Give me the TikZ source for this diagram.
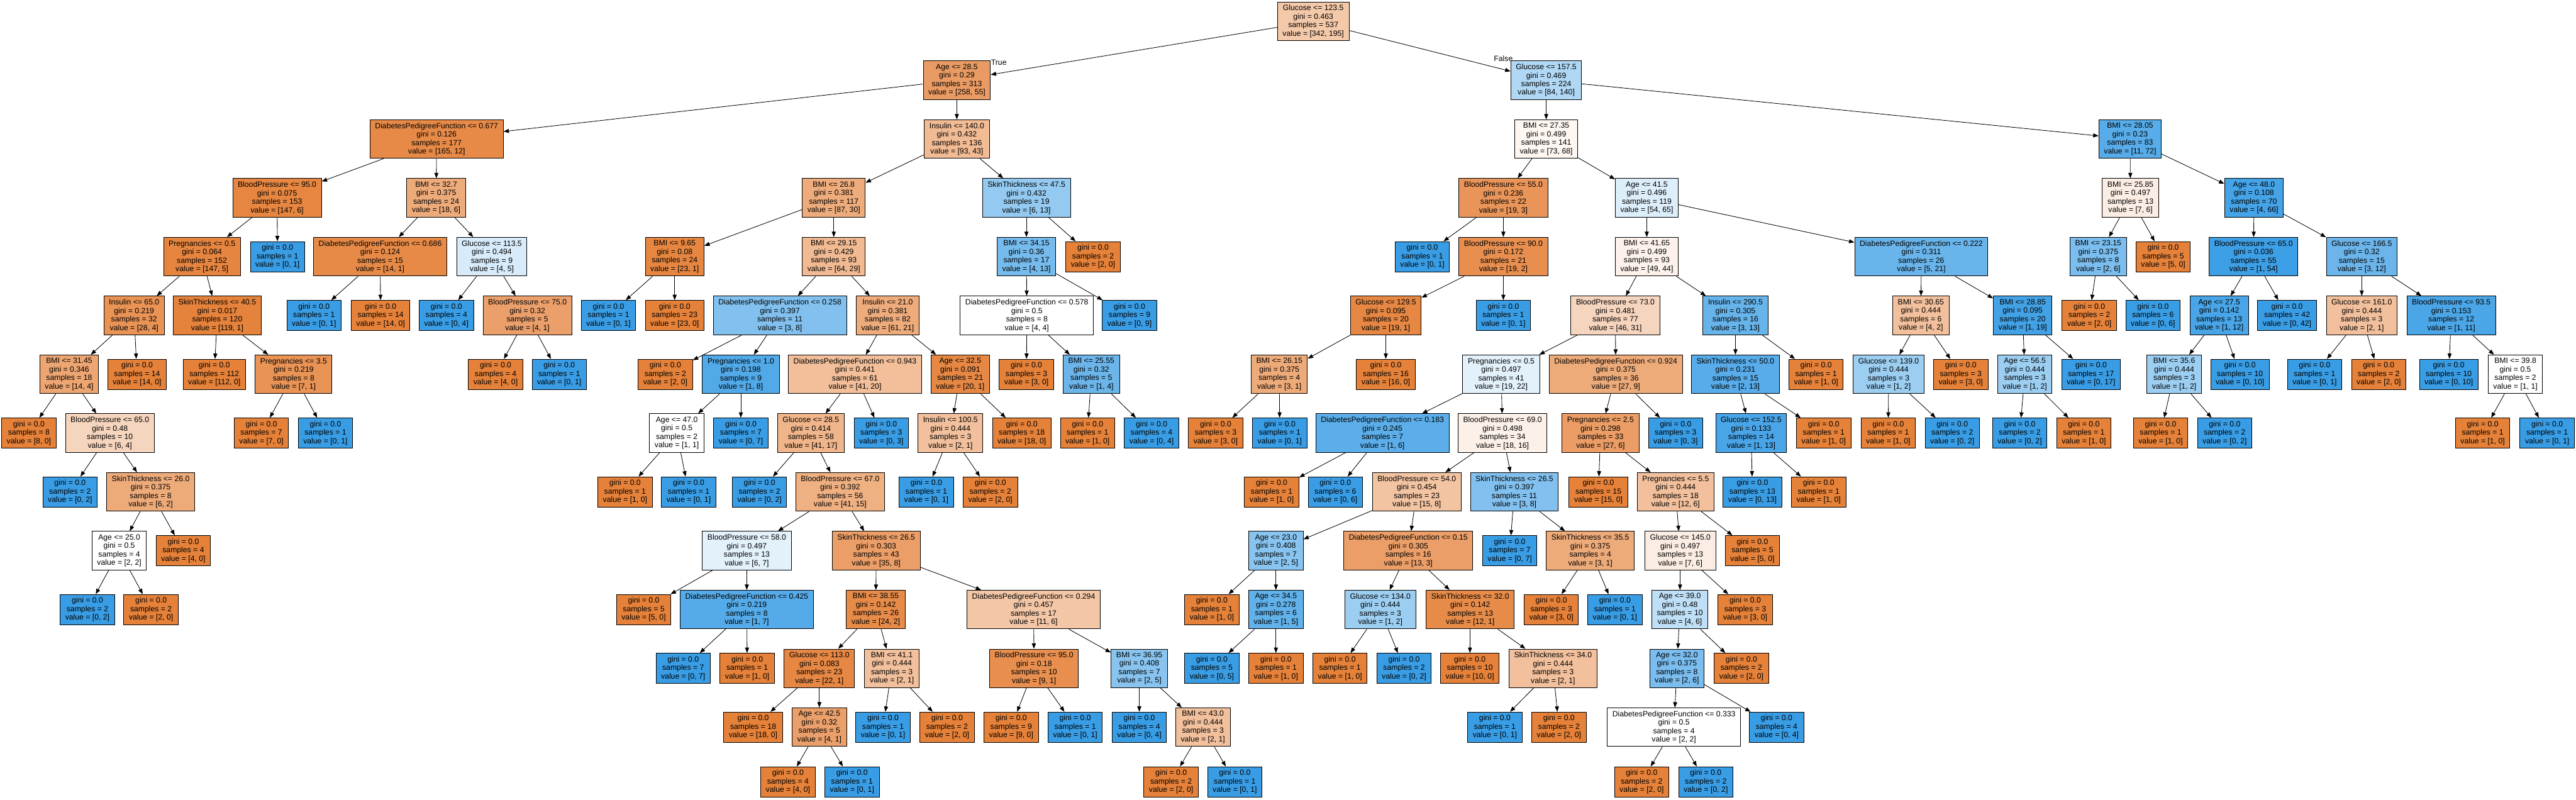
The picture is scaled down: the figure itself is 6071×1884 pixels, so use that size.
\documentclass[tikz,border=0pt]{standalone}
\usepackage{fontspec}
\setmainfont{Liberation Sans}
\usetikzlibrary{arrows.meta}
\definecolor{dtorange}{RGB}{229,129,57}
\definecolor{dtblue}{RGB}{57,157,229}
\tikzset{
  dtv/.code 2 args={%
    \pgfmathtruncatemacro\dtP{round(abs(#1-#2)/max(#1,#2)*100)}%
    \ifnum#1<#2\relax\def\dtC{dtblue}\else\def\dtC{dtorange}\fi
    \edef\dttmp{\noexpand\pgfkeysalso{fill=\dtC!\dtP!white}}\dttmp},
  box/.style={draw=black, line width=0.4pt, rectangle, align=center,
    inner xsep=0.12cm, inner ysep=0pt, minimum width=1.27cm,
    font=\fontsize{5.15pt}{5.69pt}\selectfont},
  splitbox/.style={box, minimum height=0.91cm},
  leafbox/.style={box, minimum height=0.71cm},
  edge/.style={line width=0.35pt, -{Triangle[length=3.6pt,width=2.7pt]}},
  lbl/.style={inner sep=0pt, font=\fontsize{5.15pt}{5.69pt}\selectfont}
}
% #1 name, #2 parent, #3 x, #4 y, #5 condition, #6 gini, #7 class0, #8 class1
\newcommand\dtsplit[8]{\node[splitbox, dtv={#7}{#8}] (#1) at (#3,#4)
  {#5\\gini = #6\\samples = \the\numexpr#7+#8\relax\\value = [#7, #8]};
  \draw[edge] (#2) -- (#1);}
% #1 name, #2 parent, #3 x, #4 y, #5 class0, #6 class1
\newcommand\dtleaf[6]{\node[leafbox, dtv={#5}{#6}] (#1) at (#3,#4)
  {gini = 0.0\\samples = \the\numexpr#5+#6\relax\\value = [#5, #6]};
  \draw[edge] (#2) -- (#1);}
\begin{document}
\begin{tikzpicture}[x=0.01cm,y=-0.01cm]
\useasboundingbox (0,0) rectangle (6071,1884);
\node[splitbox, dtv={342}{195}] (t) at (3095,50.5) {Glucose <= 123.5\\gini = 0.463\\samples = 537\\value = [342, 195]};
% level 1
\dtsplit{t0}{t}{2255}{189.1}{Age <= 28.5}{0.29}{258}{55}
\dtsplit{t1}{t}{3644}{189.1}{Glucose <= 157.5}{0.469}{84}{140}
\node[lbl] (ltrue) at (2354,147) {True};
\node[lbl] (lfalse) at (3543,138) {False};
% level 2
\dtsplit{t00}{t0}{1029}{327.7}{DiabetesPedigreeFunction <= 0.677}{0.126}{165}{12}
\dtsplit{t01}{t0}{2255}{327.7}{Insulin <= 140.0}{0.432}{93}{43}
\dtsplit{t10}{t1}{3644}{327.7}{BMI <= 27.35}{0.499}{73}{68}
\dtsplit{t11}{t1}{5020}{327.7}{BMI <= 28.05}{0.23}{11}{72}
% level 3
\dtsplit{t000}{t00}{653}{466.3}{BloodPressure <= 95.0}{0.075}{147}{6}
\dtsplit{t001}{t00}{1028}{466.3}{BMI <= 32.7}{0.375}{18}{6}
\dtsplit{t010}{t01}{1965}{466.3}{BMI <= 26.8}{0.381}{87}{30}
\dtsplit{t011}{t01}{2419}{466.3}{SkinThickness <= 47.5}{0.432}{6}{13}
\dtsplit{t100}{t10}{3543}{466.3}{BloodPressure <= 55.0}{0.236}{19}{3}
\dtsplit{t101}{t10}{3881}{466.3}{Age <= 41.5}{0.496}{54}{65}
\dtsplit{t110}{t11}{5021}{466.3}{BMI <= 25.85}{0.497}{7}{6}
\dtsplit{t111}{t11}{5312}{466.3}{Age <= 48.0}{0.108}{4}{66}
% level 4
\dtsplit{t0000}{t000}{476}{604.9}{Pregnancies <= 0.5}{0.064}{147}{5}
\dtleaf{t0001}{t000}{654}{604.9}{0}{1}
\dtsplit{t0010}{t001}{896}{604.9}{DiabetesPedigreeFunction <= 0.686}{0.124}{14}{1}
\dtsplit{t0011}{t001}{1159}{604.9}{Glucose <= 113.5}{0.494}{4}{5}
\dtsplit{t0100}{t010}{1590}{604.9}{BMI <= 9.65}{0.08}{23}{1}
\dtsplit{t0101}{t010}{1965}{604.9}{BMI <= 29.15}{0.429}{64}{29}
\dtsplit{t0110}{t011}{2419}{604.9}{BMI <= 34.15}{0.36}{4}{13}
\dtleaf{t0111}{t011}{2576}{604.9}{2}{0}
\dtleaf{t1000}{t100}{3352}{604.9}{0}{1}
\dtsplit{t1001}{t100}{3543}{604.9}{BloodPressure <= 90.0}{0.172}{19}{2}
\dtsplit{t1010}{t101}{3881}{604.9}{BMI <= 41.65}{0.499}{49}{44}
\dtsplit{t1011}{t101}{4528}{604.9}{DiabetesPedigreeFunction <= 0.222}{0.311}{5}{21}
\dtsplit{t1100}{t110}{4945}{604.9}{BMI <= 23.15}{0.375}{2}{6}
\dtleaf{t1101}{t110}{5098}{604.9}{5}{0}
\dtsplit{t1110}{t111}{5311}{604.9}{BloodPressure <= 65.0}{0.036}{1}{54}
\dtsplit{t1111}{t111}{5566}{604.9}{Glucose <= 166.5}{0.32}{3}{12}
% level 5
\dtsplit{t00000}{t0000}{316}{743.5}{Insulin <= 65.0}{0.219}{28}{4}
\dtsplit{t00001}{t0000}{512}{743.5}{SkinThickness <= 40.5}{0.017}{119}{1}
\dtleaf{t00100}{t0010}{740}{743.5}{0}{1}
\dtleaf{t00101}{t0010}{897}{743.5}{14}{0}
\dtleaf{t00110}{t0011}{1052}{743.5}{0}{4}
\dtsplit{t00111}{t0011}{1243}{743.5}{BloodPressure <= 75.0}{0.32}{4}{1}
\dtleaf{t01000}{t0100}{1434}{743.5}{0}{1}
\dtleaf{t01001}{t0100}{1590}{743.5}{23}{0}
\dtsplit{t01010}{t0101}{1838}{743.5}{DiabetesPedigreeFunction <= 0.258}{0.397}{3}{8}
\dtsplit{t01011}{t0101}{2092}{743.5}{Insulin <= 21.0}{0.381}{61}{21}
\dtsplit{t01100}{t0110}{2420}{743.5}{DiabetesPedigreeFunction <= 0.578}{0.5}{4}{4}
\dtleaf{t01101}{t0110}{2662}{743.5}{0}{9}
\dtsplit{t10010}{t1001}{3266}{743.5}{Glucose <= 129.5}{0.095}{19}{1}
\dtleaf{t10011}{t1001}{3543}{743.5}{0}{1}
\dtsplit{t10100}{t1010}{3807}{743.5}{BloodPressure <= 73.0}{0.481}{46}{31}
\dtsplit{t10101}{t1010}{4090}{743.5}{Insulin <= 290.5}{0.305}{3}{13}
\dtsplit{t10110}{t1011}{4527}{743.5}{BMI <= 30.65}{0.444}{4}{2}
\dtsplit{t10111}{t1011}{4767}{743.5}{BMI <= 28.85}{0.095}{1}{19}
\dtleaf{t11000}{t1100}{4924}{743.5}{2}{0}
\dtleaf{t11001}{t1100}{5074}{743.5}{0}{6}
\dtsplit{t11100}{t1110}{5230}{743.5}{Age <= 27.5}{0.142}{1}{12}
\dtleaf{t11101}{t1110}{5390}{743.5}{0}{42}
\dtsplit{t11110}{t1111}{5566}{743.5}{Glucose <= 161.0}{0.444}{2}{1}
\dtsplit{t11111}{t1111}{5777}{743.5}{BloodPressure <= 93.5}{0.153}{1}{11}
% level 6
\dtsplit{t000000}{t00000}{163}{882.1}{BMI <= 31.45}{0.346}{14}{4}
\dtleaf{t000001}{t00000}{323}{882.1}{14}{0}
\dtleaf{t000010}{t00001}{505}{882.1}{112}{0}
\dtsplit{t000011}{t00001}{692}{882.1}{Pregnancies <= 3.5}{0.219}{7}{1}
\dtleaf{t001110}{t00111}{1168}{882.1}{4}{0}
\dtleaf{t001111}{t00111}{1318}{882.1}{0}{1}
\dtleaf{t010100}{t01010}{1568}{882.1}{2}{0}
\dtsplit{t010101}{t01010}{1746}{882.1}{Pregnancies <= 1.0}{0.198}{1}{8}
\dtsplit{t010110}{t01011}{2015}{882.1}{DiabetesPedigreeFunction <= 0.943}{0.441}{41}{20}
\dtsplit{t010111}{t01011}{2263}{882.1}{Age <= 32.5}{0.091}{20}{1}
\dtleaf{t011000}{t01100}{2419}{882.1}{3}{0}
\dtsplit{t011001}{t01100}{2572}{882.1}{BMI <= 25.55}{0.32}{1}{4}
\dtsplit{t100100}{t10010}{3015}{882.1}{BMI <= 26.15}{0.375}{3}{1}
\dtleaf{t100101}{t10010}{3266}{882.1}{16}{0}
\dtsplit{t101000}{t10100}{3538}{882.1}{Pregnancies <= 0.5}{0.497}{19}{22}
\dtsplit{t101001}{t10100}{3808}{882.1}{DiabetesPedigreeFunction <= 0.924}{0.375}{27}{9}
\dtsplit{t101010}{t10101}{4090}{882.1}{SkinThickness <= 50.0}{0.231}{2}{13}
\dtleaf{t101011}{t10101}{4280}{882.1}{1}{0}
\dtsplit{t101100}{t10110}{4451}{882.1}{Glucose <= 139.0}{0.444}{1}{2}
\dtleaf{t101101}{t10110}{4621}{882.1}{3}{0}
\dtsplit{t101110}{t10111}{4772}{882.1}{Age <= 56.5}{0.444}{1}{2}
\dtleaf{t101111}{t10111}{4928}{882.1}{0}{17}
\dtsplit{t111000}{t11100}{5124}{882.1}{BMI <= 35.6}{0.444}{1}{2}
\dtleaf{t111001}{t11100}{5279}{882.1}{0}{10}
\dtleaf{t111100}{t11110}{5455}{882.1}{0}{1}
\dtleaf{t111101}{t11110}{5606}{882.1}{2}{0}
\dtleaf{t111110}{t11111}{5771}{882.1}{0}{10}
\dtsplit{t111111}{t11111}{5928}{882.1}{BMI <= 39.8}{0.5}{1}{1}
% level 7
\dtleaf{t0000000}{t000000}{68}{1020.7}{8}{0}
\dtsplit{t0000001}{t000000}{259}{1020.7}{BloodPressure <= 65.0}{0.48}{6}{4}
\dtleaf{t0000110}{t000011}{616}{1020.7}{7}{0}
\dtleaf{t0000111}{t000011}{767}{1020.7}{0}{1}
\dtsplit{t0101010}{t010101}{1595}{1020.7}{Age <= 47.0}{0.5}{1}{1}
\dtleaf{t0101011}{t010101}{1746}{1020.7}{0}{7}
\dtsplit{t0101100}{t010110}{1911}{1020.7}{Glucose <= 28.5}{0.414}{41}{17}
\dtleaf{t0101101}{t010110}{2077}{1020.7}{0}{3}
\dtsplit{t0101110}{t010111}{2240}{1020.7}{Insulin <= 100.5}{0.444}{2}{1}
\dtleaf{t0101111}{t010111}{2408}{1020.7}{18}{0}
\dtleaf{t0110010}{t011001}{2563}{1020.7}{1}{0}
\dtleaf{t0110011}{t011001}{2714}{1020.7}{0}{4}
\dtleaf{t1001000}{t100100}{2865}{1020.7}{3}{0}
\dtleaf{t1001001}{t100100}{3016}{1020.7}{0}{1}
\dtsplit{t1010000}{t101000}{3258}{1020.7}{DiabetesPedigreeFunction <= 0.183}{0.245}{1}{6}
\dtsplit{t1010001}{t101000}{3541}{1020.7}{BloodPressure <= 69.0}{0.498}{18}{16}
\dtsplit{t1010010}{t101001}{3772}{1020.7}{Pregnancies <= 2.5}{0.298}{27}{6}
\dtleaf{t1010011}{t101001}{3949}{1020.7}{0}{3}
\dtsplit{t1010100}{t101010}{4127}{1020.7}{Glucose <= 152.5}{0.133}{1}{13}
\dtleaf{t1010101}{t101010}{4298}{1020.7}{1}{0}
\dtleaf{t1011000}{t101100}{4450}{1020.7}{1}{0}
\dtleaf{t1011001}{t101100}{4601}{1020.7}{0}{2}
\dtleaf{t1011100}{t101110}{4760}{1020.7}{0}{2}
\dtleaf{t1011101}{t101110}{4911}{1020.7}{1}{0}
\dtleaf{t1110000}{t111000}{5092}{1020.7}{1}{0}
\dtleaf{t1110001}{t111000}{5243}{1020.7}{0}{2}
\dtleaf{t1111110}{t111111}{5851}{1020.7}{1}{0}
\dtleaf{t1111111}{t111111}{6003}{1020.7}{0}{1}
% level 8
\dtleaf{t00000010}{t0000001}{165}{1159.3}{0}{2}
\dtsplit{t00000011}{t0000001}{355}{1159.3}{SkinThickness <= 26.0}{0.375}{6}{2}
\dtleaf{t01010100}{t0101010}{1473}{1159.3}{1}{0}
\dtleaf{t01010101}{t0101010}{1623}{1159.3}{0}{1}
\dtleaf{t01011000}{t0101100}{1790}{1159.3}{0}{2}
\dtsplit{t01011001}{t0101100}{1980}{1159.3}{BloodPressure <= 67.0}{0.392}{41}{15}
\dtleaf{t01011100}{t0101110}{2183}{1159.3}{0}{1}
\dtleaf{t01011101}{t0101110}{2334}{1159.3}{2}{0}
\dtleaf{t10100000}{t1010000}{2997}{1159.3}{1}{0}
\dtleaf{t10100001}{t1010000}{3147}{1159.3}{0}{6}
\dtsplit{t10100010}{t1010001}{3339}{1159.3}{BloodPressure <= 54.0}{0.454}{15}{8}
\dtsplit{t10100011}{t1010001}{3569}{1159.3}{SkinThickness <= 26.5}{0.397}{3}{8}
\dtleaf{t10100100}{t1010010}{3767}{1159.3}{15}{0}
\dtsplit{t10100101}{t1010010}{3949}{1159.3}{Pregnancies <= 5.5}{0.444}{12}{6}
\dtleaf{t10101000}{t1010100}{4130}{1159.3}{0}{13}
\dtleaf{t10101001}{t1010100}{4286}{1159.3}{1}{0}
% level 9
\dtsplit{t000000110}{t00000011}{281}{1297.9}{Age <= 25.0}{0.5}{2}{2}
\dtleaf{t000000111}{t00000011}{432}{1297.9}{4}{0}
\dtsplit{t010110010}{t01011001}{1760}{1297.9}{BloodPressure <= 58.0}{0.497}{6}{7}
\dtsplit{t010110011}{t01011001}{2065}{1297.9}{SkinThickness <= 26.5}{0.303}{35}{8}
\dtsplit{t101000100}{t10100010}{3007}{1297.9}{Age <= 23.0}{0.408}{2}{5}
\dtsplit{t101000101}{t10100010}{3319}{1297.9}{DiabetesPedigreeFunction <= 0.15}{0.305}{13}{3}
\dtleaf{t101000110}{t10100011}{3558}{1297.9}{0}{7}
\dtsplit{t101000111}{t10100011}{3748}{1297.9}{SkinThickness <= 35.5}{0.375}{3}{1}
\dtsplit{t101001010}{t10100101}{3960}{1297.9}{Glucose <= 145.0}{0.497}{7}{6}
\dtleaf{t101001011}{t10100101}{4130}{1297.9}{5}{0}
% level 10
\dtleaf{t0000001100}{t000000110}{206}{1436.5}{0}{2}
\dtleaf{t0000001101}{t000000110}{356}{1436.5}{2}{0}
\dtleaf{t0101100100}{t010110010}{1517}{1436.5}{5}{0}
\dtsplit{t0101100101}{t010110010}{1760}{1436.5}{DiabetesPedigreeFunction <= 0.425}{0.219}{1}{7}
\dtsplit{t0101100110}{t010110011}{2064}{1436.5}{BMI <= 38.55}{0.142}{24}{2}
\dtsplit{t0101100111}{t010110011}{2436}{1436.5}{DiabetesPedigreeFunction <= 0.294}{0.457}{11}{6}
\dtleaf{t1010001000}{t101000100}{2856}{1436.5}{1}{0}
\dtsplit{t1010001001}{t101000100}{3007}{1436.5}{Age <= 34.5}{0.278}{1}{5}
\dtsplit{t1010001010}{t101000101}{3253}{1436.5}{Glucose <= 134.0}{0.444}{1}{2}
\dtsplit{t1010001011}{t101000101}{3465}{1436.5}{SkinThickness <= 32.0}{0.142}{12}{1}
\dtleaf{t1010001110}{t101000111}{3656}{1436.5}{3}{0}
\dtleaf{t1010001111}{t101000111}{3806}{1436.5}{0}{1}
\dtsplit{t1010010100}{t101001010}{3959}{1436.5}{Age <= 39.0}{0.48}{4}{6}
\dtleaf{t1010010101}{t101001010}{4113}{1436.5}{3}{0}
% level 11
\dtleaf{t01011001010}{t0101100101}{1610}{1575.1}{0}{7}
\dtleaf{t01011001011}{t0101100101}{1761}{1575.1}{1}{0}
\dtsplit{t01011001100}{t0101100110}{1931}{1575.1}{Glucose <= 113.0}{0.083}{22}{1}
\dtsplit{t01011001101}{t0101100110}{2102}{1575.1}{BMI <= 41.1}{0.444}{2}{1}
\dtsplit{t01011001110}{t0101100111}{2437}{1575.1}{BloodPressure <= 95.0}{0.18}{9}{1}
\dtsplit{t01011001111}{t0101100111}{2685}{1575.1}{BMI <= 36.95}{0.408}{2}{5}
\dtleaf{t10100010010}{t1010001001}{2856}{1575.1}{0}{5}
\dtleaf{t10100010011}{t1010001001}{3007}{1575.1}{1}{0}
\dtleaf{t10100010100}{t1010001010}{3158}{1575.1}{1}{0}
\dtleaf{t10100010101}{t1010001010}{3309}{1575.1}{0}{2}
\dtleaf{t10100010110}{t1010001011}{3464}{1575.1}{10}{0}
\dtsplit{t10100010111}{t1010001011}{3660}{1575.1}{SkinThickness <= 34.0}{0.444}{2}{1}
\dtsplit{t10100101000}{t1010010100}{3952}{1575.1}{Age <= 32.0}{0.375}{2}{6}
\dtleaf{t10100101001}{t1010010100}{4104}{1575.1}{2}{0}
% level 12
\dtleaf{t010110011000}{t01011001100}{1775}{1713.7}{18}{0}
\dtsplit{t010110011001}{t01011001100}{1931}{1713.7}{Age <= 42.5}{0.32}{4}{1}
\dtleaf{t010110011010}{t01011001101}{2081}{1713.7}{0}{1}
\dtleaf{t010110011011}{t01011001101}{2232}{1713.7}{2}{0}
\dtleaf{t010110011100}{t01011001110}{2383}{1713.7}{9}{0}
\dtleaf{t010110011101}{t01011001110}{2534}{1713.7}{0}{1}
\dtleaf{t010110011110}{t01011001111}{2685}{1713.7}{0}{4}
\dtsplit{t010110011111}{t01011001111}{2835}{1713.7}{BMI <= 43.0}{0.444}{2}{1}
\dtleaf{t101000101110}{t10100010111}{3523}{1713.7}{0}{1}
\dtleaf{t101000101111}{t10100010111}{3674}{1713.7}{2}{0}
\dtsplit{t101001010000}{t10100101000}{3945}{1713.7}{DiabetesPedigreeFunction <= 0.333}{0.5}{2}{2}
\dtleaf{t101001010001}{t10100101000}{4187}{1713.7}{0}{4}
% level 13
\dtleaf{t0101100110010}{t010110011001}{1857}{1842.5}{4}{0}
\dtleaf{t0101100110011}{t010110011001}{2008}{1842.5}{0}{1}
\dtleaf{t0101100111110}{t010110011111}{2760}{1842.5}{2}{0}
\dtleaf{t0101100111111}{t010110011111}{2910}{1842.5}{0}{1}
\dtleaf{t1010010100000}{t101001010000}{3869}{1842.5}{2}{0}
\dtleaf{t1010010100001}{t101001010000}{4020}{1842.5}{0}{2}
\end{tikzpicture}
\end{document}
